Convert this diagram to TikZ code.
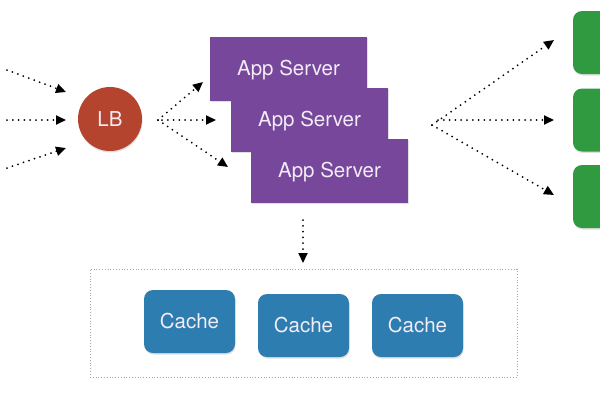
\documentclass[tikz,border=0pt]{standalone}
\usepackage{fontspec}
\setmainfont{TeX Gyre Heros}
\usetikzlibrary{arrows.meta,shadows}
\definecolor{appc}{HTML}{77479B}
\definecolor{lbc}{HTML}{B5442F}
\definecolor{grc}{HTML}{2F9A40}
\definecolor{cac}{HTML}{2E7DB1}
\definecolor{txc}{HTML}{F2ECF5}
\begin{document}
\begin{tikzpicture}[x=1pt,y=-1pt,
  lbl/.style={font=\fontsize{20.5}{24}\selectfont, text=txc, text height=14.7pt, text depth=0pt},
  shad/.style={drop shadow={opacity=0.25,shadow xshift=0.6pt,shadow yshift=-1.5pt}},
  circ/.style={circle, fill=lbc, minimum size=64pt, inner sep=0pt, lbl, shad},
  app/.style={rectangle, fill=appc, minimum width=157pt, minimum height=64pt, inner sep=0pt, lbl, shad},
  cache/.style={rectangle, rounded corners=9pt, fill=cac, minimum width=91pt, minimum height=63pt, inner sep=0pt, lbl, shad},
  green/.style={rectangle, rounded corners=9pt, fill=grc, minimum width=62pt, minimum height=63pt, inner sep=0pt, shad},
  container/.style={rectangle, draw=gray!70, line width=0.8pt, dash pattern=on 0.8pt off 2pt, minimum width=427pt, minimum height=108pt, inner sep=0pt},
  dotarrow/.style={line width=2pt, line cap=round, dash pattern=on 0pt off 5.8pt, -{Triangle[length=10pt,width=9pt]}}
]
\useasboundingbox (0,0) rectangle (600,400);
\clip (0,0) rectangle (600,400);

% nodes
\node[circ] (lb) at (110,119) {LB};
\node[app] (a1) at (288.5,68.5) {App Server};
\node[app] (a2) at (309.5,119.5) {App Server};
\node[app] (a3) at (329.5,170.5) {App Server};

\node[green] (g1) at (604,42.5) {};
\node[green] (g2) at (604,120) {};
\node[green] (g3) at (604,196.5) {};

\node[container] (box) at (303.5,323) {};
\node[cache] (c1) at (189.5,321.5) {Cache};
\node[cache] (c2) at (303.5,325.5) {Cache};
\node[cache] (c3) at (417.5,325.5) {Cache};

% coordinates
\coordinate (in1) at (7,70);
\coordinate (in2) at (7,120);
\coordinate (in3) at (7,168);
\coordinate (lbi1) at (66,92);
\coordinate (lbi2) at (66,120);
\coordinate (lbi3) at (66,148);

\coordinate (lbo) at (158,120);
\coordinate (lbom) at (162,120);
\coordinate (ae1) at (203,82);
\coordinate (ae2) at (216,120);
\coordinate (ae3) at (228,167);

\coordinate (ro) at (432,125);
\coordinate (rom) at (438,120);
\coordinate (ge1) at (554,40);
\coordinate (ge2) at (554,120);
\coordinate (ge3) at (554,195);

\coordinate (ds) at (303,220);
\coordinate (de) at (303,263);

% connectors
\draw[dotarrow] (in1) -- (lbi1);
\draw[dotarrow] (in2) -- (lbi2);
\draw[dotarrow] (in3) -- (lbi3);

\draw[dotarrow] (lbo) -- (ae1);
\draw[dotarrow] (lbom) -- (ae2);
\draw[dotarrow] (lbo) -- (ae3);

\draw[dotarrow] (ro) -- (ge1);
\draw[dotarrow] (rom) -- (ge2);
\draw[dotarrow] (ro) -- (ge3);

\draw[dotarrow] (ds) -- (de);
\end{tikzpicture}
\end{document}
